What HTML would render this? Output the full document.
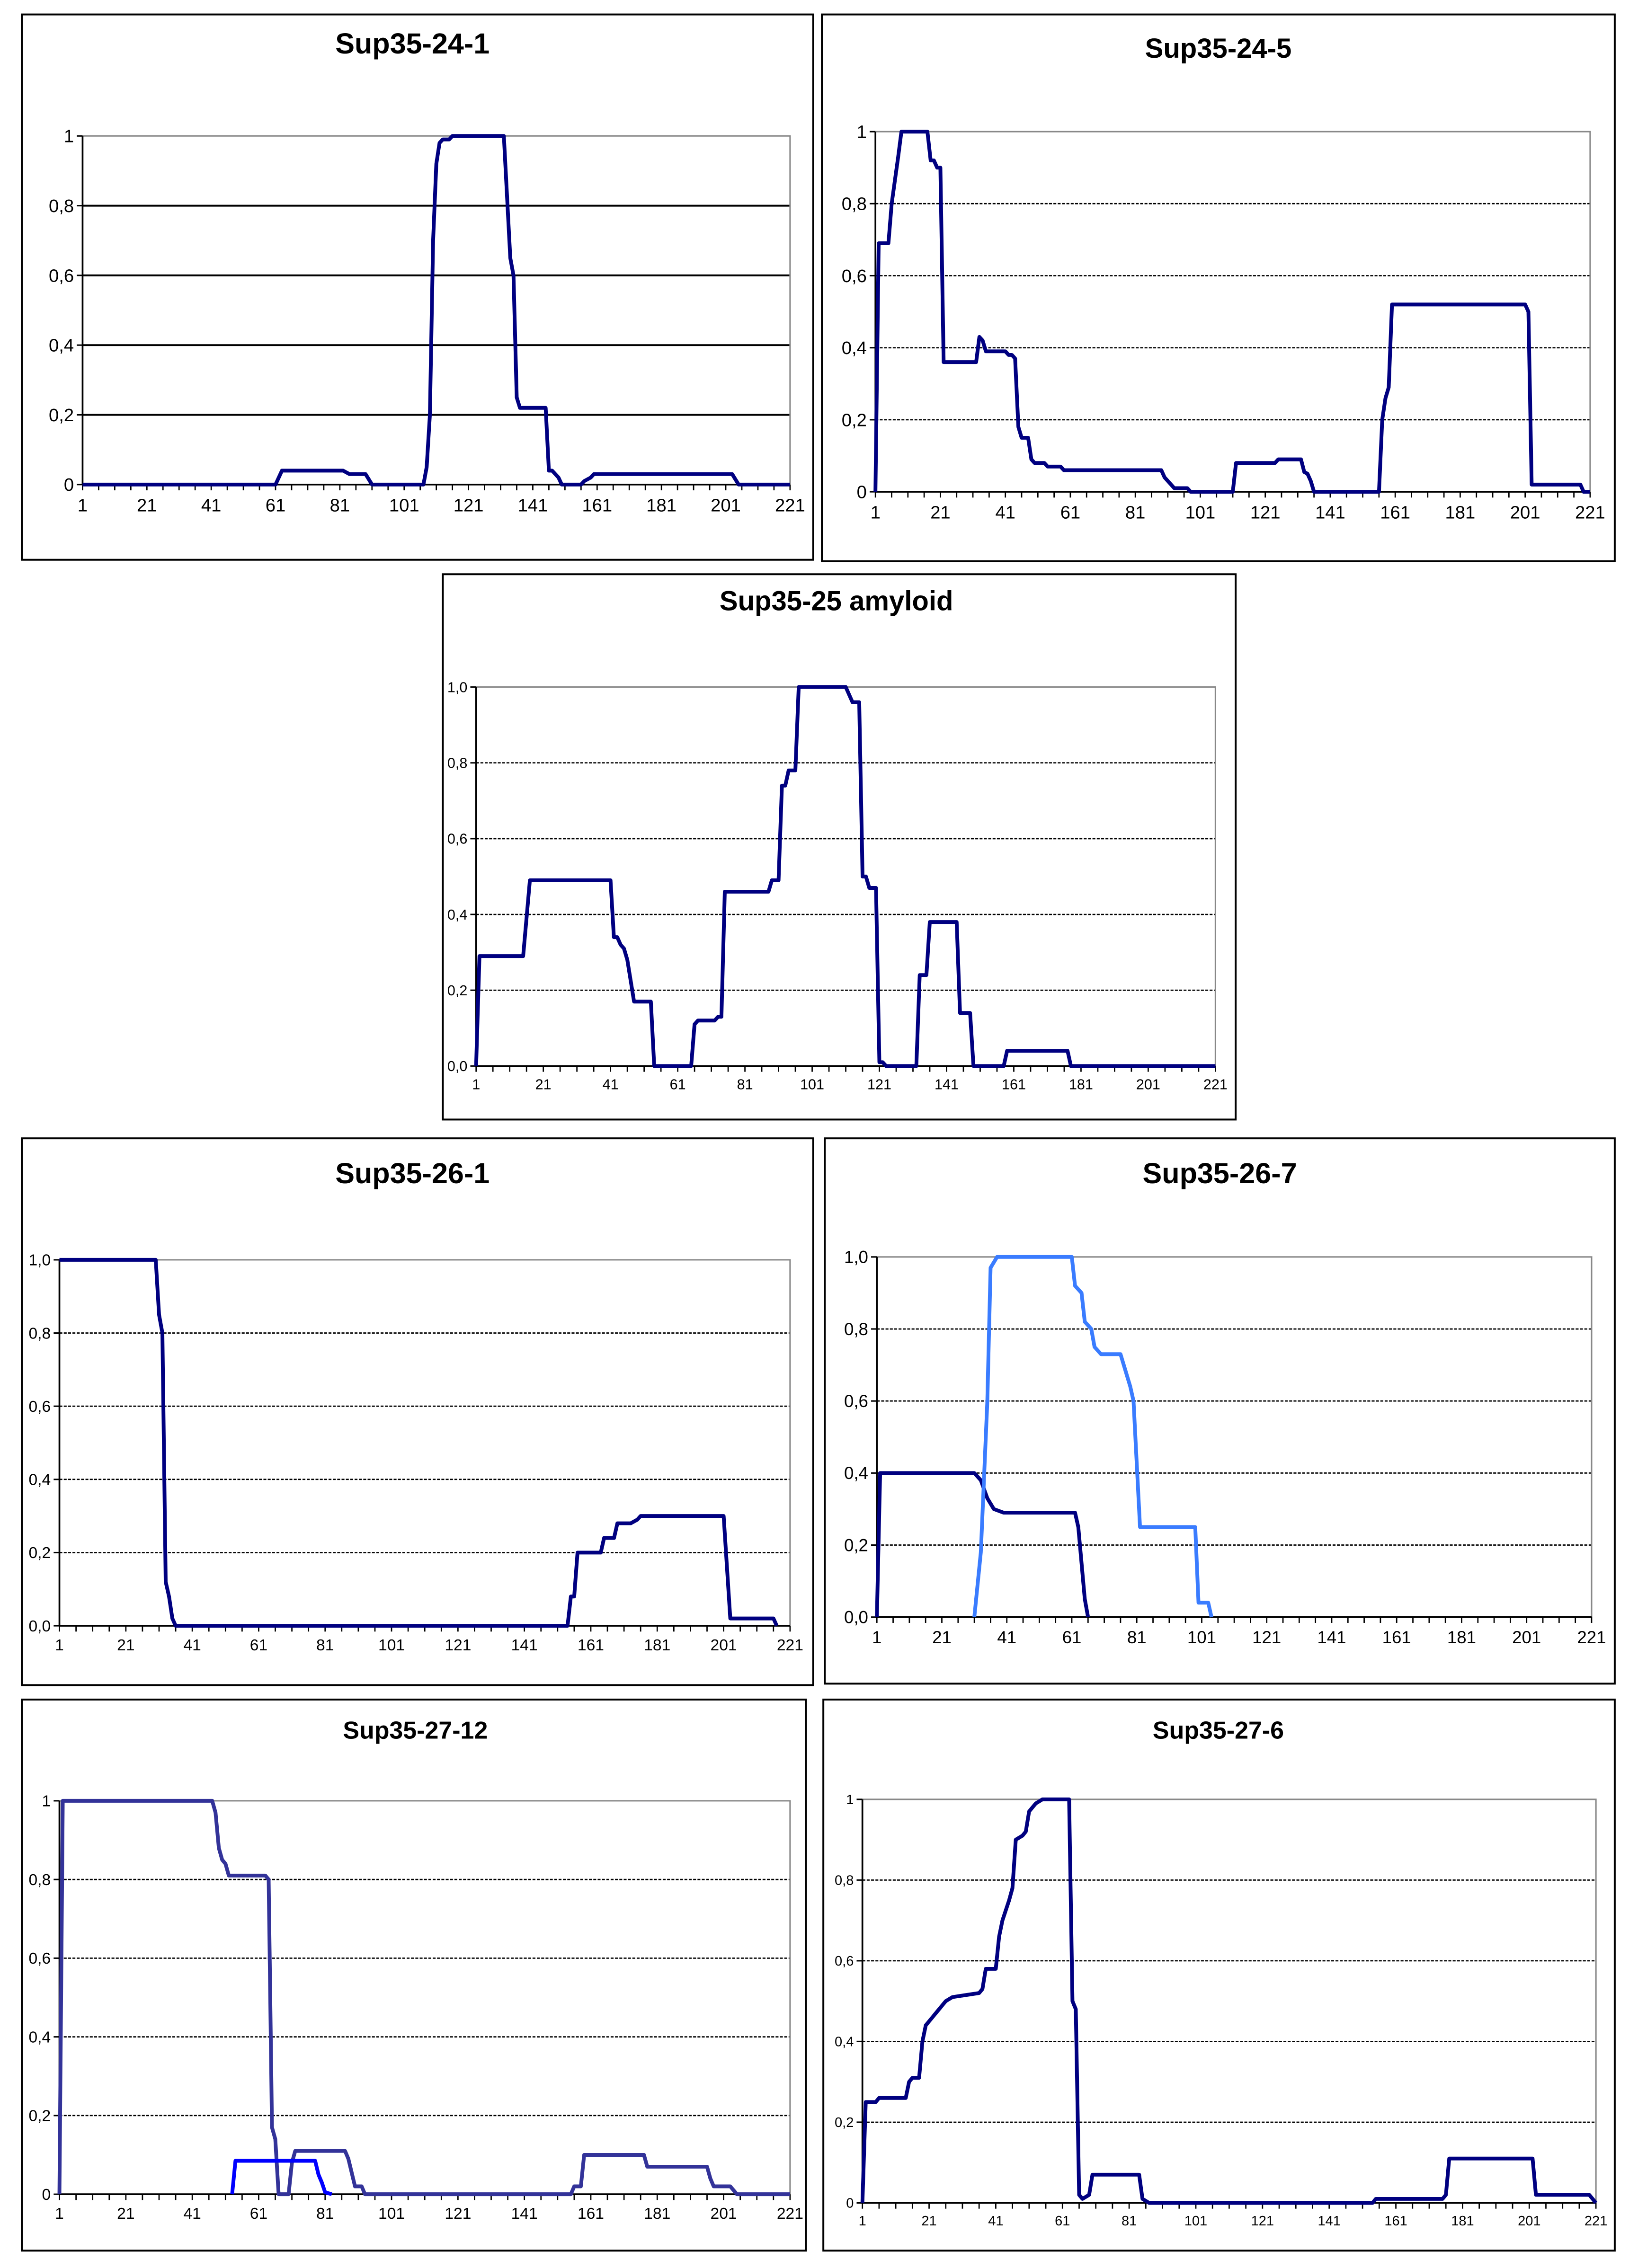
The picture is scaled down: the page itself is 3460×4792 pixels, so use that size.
<!DOCTYPE html>
<html><head><meta charset="utf-8"><style>
html,body{margin:0;padding:0;background:#fff}
svg{display:block}
text{font-family:"Liberation Sans",sans-serif}
</style></head><body>
<svg id="root" xmlns="http://www.w3.org/2000/svg" width="3460" height="4792" viewBox="0 0 1132 1568"></svg>
<script>
const NS="http://www.w3.org/2000/svg";
// ---- data (x positions 1..221, values 0..1) ----
const xTicks=[1,21,41,61,81,101,121,141,161,181,201,221];
const yTicksA=["0","0,2","0,4","0,6","0,8","1"];
const yTicksB=["0,0","0,2","0,4","0,6","0,8","1,0"];
const yVals=[0,0.2,0.4,0.6,0.8,1];
const s241x=[1,61,63,82,84,89,91,107,108,109,110,111,112,113,115,116,132,134,135,136,137,145,146,147,149,150,156,157,159,160,203,205,221];
const s241y=[0,0,0.04,0.04,0.03,0.03,0,0,0.05,0.2,0.7,0.92,0.98,0.99,0.99,1,1,0.65,0.6,0.25,0.22,0.22,0.04,0.04,0.02,0,0,0.01,0.02,0.03,0.03,0,0];
const s245x=[1,2,5,6,8,9,17,18,19,20,21,22,32,33,34,35,41,42,43,44,45,46,48,49,50,53,54,58,59,89,90,92,93,97,98,111,112,124,125,132,133,134,135,136,156,157,158,159,160,201,202,203,218,219,221];
const s245y=[0,0.69,0.69,0.8,0.93,1,1,0.92,0.92,0.9,0.9,0.36,0.36,0.43,0.42,0.39,0.39,0.38,0.38,0.37,0.18,0.15,0.15,0.09,0.08,0.08,0.07,0.07,0.06,0.06,0.04,0.02,0.01,0.01,0,0,0.08,0.08,0.09,0.09,0.055,0.05,0.03,0,0,0.2,0.26,0.29,0.52,0.52,0.5,0.02,0.02,0,0];
const s25x=[1,2,15,17,41,42,43,44,45,46,48,53,54,65,66,67,72,73,74,75,88,89,91,92,93,94,96,97,111,112,113,115,116,117,118,120,121,122,123,132,133,135,136,144,145,148,149,158,159,177,178,221];
const s25y=[0,0.29,0.29,0.49,0.49,0.34,0.34,0.32,0.31,0.28,0.17,0.17,0,0,0.11,0.12,0.12,0.13,0.13,0.46,0.46,0.49,0.49,0.74,0.74,0.78,0.78,1,1,0.98,0.96,0.96,0.5,0.5,0.47,0.47,0.01,0.01,0,0,0.24,0.24,0.38,0.38,0.14,0.14,0,0,0.04,0.04,0,0];
const s261x=[1,30,31,32,33,34,35,36,154,155,156,157,164,165,168,169,173,175,176,201,203,216,217];
const s261y=[1,1,0.85,0.8,0.12,0.08,0.02,0,0,0.08,0.08,0.2,0.2,0.24,0.24,0.28,0.28,0.29,0.3,0.3,0.02,0.02,0];
const s267ax=[1,2,31,33,35,37,40,62,63,65,66];
const s267ay=[0,0.4,0.4,0.38,0.33,0.3,0.29,0.29,0.25,0.05,0];
const s267bx=[31,33,35,36,38,61,62,64,65,67,68,70,76,77,79,80,82,99,100,103,104];
const s267by=[0,0.18,0.6,0.97,1,1,0.92,0.9,0.82,0.8,0.75,0.73,0.73,0.7,0.64,0.6,0.25,0.25,0.04,0.04,0];
const s2712ax=[1,2,47,48,49,50,51,52,63,64,65,66,67,70,71,72,87,88,90,92,93,155,156,158,159,177,178,196,197,198,203,204,205,221];
const s2712ay=[0,1,1,0.97,0.88,0.85,0.84,0.81,0.81,0.8,0.17,0.14,0,0,0.08,0.11,0.11,0.09,0.02,0.02,0,0,0.02,0.02,0.1,0.1,0.07,0.07,0.04,0.02,0.02,0.01,0,0];
const s2712bx=[53,54,78,79,80,81,83];
const s2712by=[0,0.085,0.085,0.05,0.03,0.005,0];
const s276x=[1,2,5,6,14,15,16,18,19,20,22,24,26,28,36,37,38,41,42,43,45,46,47,49,50,51,53,55,63,64,65,66,67,69,70,84,85,87,154,155,175,176,177,202,203,219,221];
const s276y=[0,0.25,0.25,0.26,0.26,0.3,0.31,0.31,0.4,0.44,0.46,0.48,0.5,0.51,0.52,0.53,0.58,0.58,0.66,0.7,0.75,0.78,0.9,0.91,0.92,0.97,0.99,1,1,0.5,0.48,0.02,0.01,0.02,0.07,0.07,0.01,0,0,0.01,0.01,0.02,0.11,0.11,0.02,0.02,0];

const root=document.getElementById('root');
function el(tag,attrs,parent){const e=document.createElementNS(NS,tag);for(const k in attrs)e.setAttribute(k,attrs[k]);(parent||root).appendChild(e);return e;}

function chart(cfg){
  const g=el('g',{});
  
  
  const fr=el('rect',{x:cfg.fx,y:cfg.fy,width:cfg.fw,height:cfg.fh,fill:'#fff',stroke:'#000','stroke-width':1.3},g);
  
  
  const t=el('text',{x:cfg.tx,y:cfg.ty,'text-anchor':'middle','font-size':cfg.tfs,'font-weight':'bold'},g);
  t.textContent=cfg.title;
  
  
  const X=v=>cfg.x0+(v-1)*(cfg.x1-cfg.x0)/220;
  const Y=v=>cfg.y0-v*(cfg.y0-cfg.y1);
  // gridlines
  yVals.forEach((v,i)=>{
    if(v>0&&v<1){
      const gl=el('line',{x1:X(1),x2:X(221),y1:Y(v),y2:Y(v),stroke:'#000','stroke-width':cfg.solid?1.3:0.9,'stroke-dasharray':cfg.solid?'':'2,1'},g);
      
      
    }
    const tk=el('line',{x1:X(1)-4,x2:X(1),y1:Y(v),y2:Y(v),stroke:'#000','stroke-width':1},g);
    
    
    const lb=el('text',{x:X(1)-6,y:Y(v)+cfg.lfs*0.35,'text-anchor':'end','font-size':cfg.lfs},g);
    lb.textContent=cfg.ylab[i];
    
    
  });
  const top=el('polyline',{points:`${X(1)},${Y(1)} ${X(221)},${Y(1)} ${X(221)},${Y(0)}`,fill:'none',stroke:'#888','stroke-width':1},g);
  
  
  const ya=el('line',{x1:X(1),x2:X(1),y1:Y(0),y2:Y(1),stroke:'#000','stroke-width':1.2},g);
  
  
  const xa=el('line',{x1:X(1),x2:X(221),y1:Y(0),y2:Y(0),stroke:'#000','stroke-width':1.2},g);
  
  
  for(let v=1;v<=221;v+=5){
    const tk=el('line',{x1:X(v),x2:X(v),y1:Y(0),y2:Y(0)+4,stroke:'#000','stroke-width':0.9},g);
    
    
  }
  xTicks.forEach(v=>{
    const lb=el('text',{x:X(v),y:Y(0)+cfg.lfs+6,'text-anchor':'middle','font-size':cfg.lfs},g);
    lb.textContent=String(v);
    
    
  });
  cfg.series.forEach(s=>{
    const pts=s.xs.map((x,i)=>X(x).toFixed(2)+','+Y(s.ys[i]).toFixed(2)).join(' ');
    const pl=el('polyline',{points:pts,fill:'none',stroke:s.color,'stroke-width':2.6,'stroke-linejoin':'round'},g);
    
    
  });
}
const NAVY='#000080';
chart({name:'chart-sup35-24-1',title:'Sup35-24-1',fx:15,fy:10,fw:547,fh:377,tx:285,ty:37,tfs:20,x0:57,x1:546,y0:335,y1:94,lfs:12.5,ylab:yTicksA,solid:true,
  series:[{name:'series-24-1',xs:s241x,ys:s241y,color:NAVY}]});
chart({name:'chart-sup35-24-5',title:'Sup35-24-5',fx:568,fy:10,fw:548,fh:378,tx:842,ty:40,tfs:19,x0:605,x1:1099,y0:340,y1:91,lfs:12.5,ylab:yTicksA,
  series:[{name:'series-24-5',xs:s245x,ys:s245y,color:NAVY}]});
chart({name:'chart-sup35-25-amyloid',title:'Sup35-25 amyloid',fx:306,fy:397,fw:548,fh:377,tx:578,ty:422,tfs:19,x0:329,x1:840,y0:737,y1:475,lfs:10,ylab:yTicksB,
  series:[{name:'series-25-amyloid',xs:s25x,ys:s25y,color:NAVY}]});
chart({name:'chart-sup35-26-1',title:'Sup35-26-1',fx:15,fy:787,fw:547,fh:378,tx:285,ty:818,tfs:20,x0:41,x1:546,y0:1124,y1:871,lfs:11,ylab:yTicksB,
  series:[{name:'series-26-1',xs:s261x,ys:s261y,color:NAVY}]});
chart({name:'chart-sup35-26-7',title:'Sup35-26-7',fx:570,fy:787,fw:546,fh:377,tx:843,ty:818,tfs:20,x0:606,x1:1100,y0:1118,y1:869,lfs:12,ylab:yTicksB,
  series:[{name:'series-26-7-dark',xs:s267ax,ys:s267ay,color:NAVY},{name:'series-26-7-light',xs:s267bx,ys:s267by,color:'#3a7cff'}]});
chart({name:'chart-sup35-27-12',title:'Sup35-27-12',fx:15,fy:1175,fw:542,fh:381,tx:287,ty:1202,tfs:17,x0:41,x1:546,y0:1517,y1:1245,lfs:11,ylab:yTicksA,
  series:[{name:'series-27-12-dark',xs:s2712ax,ys:s2712ay,color:'#333399'},{name:'series-27-12-blue',xs:s2712bx,ys:s2712by,color:'#0000ff'}]});
chart({name:'chart-sup35-27-6',title:'Sup35-27-6',fx:569,fy:1175,fw:547,fh:381,tx:842,ty:1202,tfs:17,x0:596,x1:1103,y0:1523,y1:1244,lfs:9.5,ylab:yTicksA,
  series:[{name:'series-27-6',xs:s276x,ys:s276y,color:NAVY}]});
</script>
</body></html>
